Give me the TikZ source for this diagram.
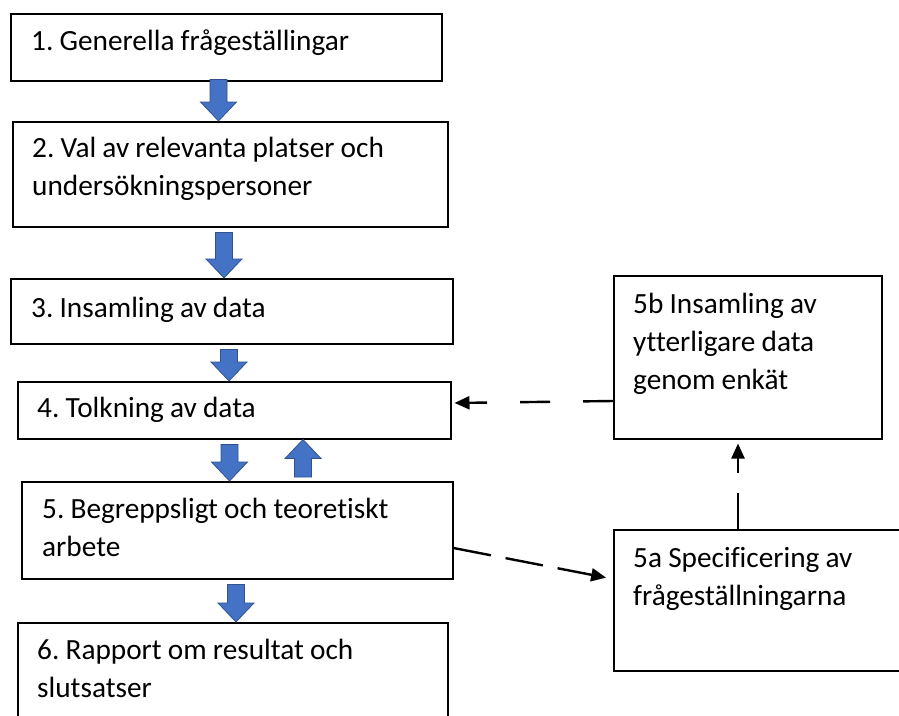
\documentclass[tikz,border=0pt]{standalone}
\usepackage{fontspec}
\setmainfont{Carlito}[Ligatures=NoCommon]
\usepackage{xcolor}
\usepackage{tikz}
\usetikzlibrary{calc,arrows.meta}

\definecolor{arrowblue}{HTML}{4472C4}
\definecolor{arrowline}{HTML}{2F528F}

\tikzset{
  box/.style={draw, line width=1.5pt, anchor=north west, inner sep=0pt},
  txt/.style={anchor=base west, inner sep=0pt, text width=420pt, align=left,
    font=\fontsize{29.3}{38}\selectfont,
    execute at begin node={\frenchspacing\spaceskip=0.21em\relax}},
  blockarrow/.style={draw=arrowline, fill=arrowblue, line width=0.75pt,
    to path={let \p1=(\tikztostart), \p2=(\tikztotarget),
      \n1={sign(\y2-\y1)} in
      ({\x1-8.5pt},{\y1+(\n1)*(#1)}) -- ({\x1-8.5pt},{\y2-(\n1)*19})
      -- ({\x1-18pt},{\y2-(\n1)*19}) -- (\x2,\y2)
      -- ({\x1+18pt},{\y2-(\n1)*19}) -- ({\x1+8.5pt},{\y2-(\n1)*19})
      -- ({\x1+8.5pt},{\y1+(\n1)*(#1)}) -- cycle}},
  blockarrow/.default=5,
  dasharrow/.style={line width=2.4pt, -{Triangle[length=15pt,width=13pt]}}
}

\begin{document}
\begin{tikzpicture}[x=1pt, y=-1pt]
  \useasboundingbox (0,0) rectangle (899,715);

  % main column
  \node[box, minimum width=431pt, minimum height=67pt] (b1) at (10,13) {};
  \node[txt] (t1) at (31,50) {1. Generella frågeställingar};
  \node[box, minimum width=435pt, minimum height=105pt] (b2) at (12,121) {};
  \node[txt] (t2) at (32,157) {2. Val av relevanta platser och\\undersökningspersoner};
  \node[box, minimum width=442pt, minimum height=65pt] (b3) at (10,278) {};
  \node[txt] (t3) at (31,317) {3. Insamling av data};
  \node[box, minimum width=433pt, minimum height=57pt] (b4) at (17,381) {};
  \node[txt] (t4) at (37,417) {4. Tolkning av data};
  \node[box, minimum width=431pt, minimum height=97pt] (b5) at (21,481) {};
  \node[txt] (t5) at (42,518) {5. Begreppsligt och teoretiskt\\arbete};
  \node[box, minimum width=430pt, minimum height=120pt] (b6) at (17,622) {};
  \node[txt] (t6) at (37,659) {6. Rapport om resultat och\\slutsatser};

  % side column
  \node[box, minimum width=268pt, minimum height=163pt] (b5b) at (613,275) {};
  \node[txt] (t5b) at (633,313) {5b Insamling av\\ytterligare data\\genom enkät};
  \node[box, minimum width=307pt, minimum height=141pt] (b5a) at (613,529) {};
  \node[txt] (t5a) at (633,567) {5a Specificering av\\frågeställningarna};

  \draw[blockarrow=-2] (b1.south -| 218.5,0) to (b2.north -| 218.5,0); % 1-2
  \draw[blockarrow] (b2.south -| 224,0) to (b3.north -| 224,0); % 2-3
  \draw[blockarrow] (b3.south -| 229,0) to (b4.north -| 229,0); % 3-4
  \draw[blockarrow] (b4.south -| 229.5,0) to (b5.north -| 229.5,0); % 4-5
  \draw[blockarrow=4] (b5.north -| 303,0) to (b4.south -| 303,0); % 5-4
  \draw[blockarrow] (b5.south -| 236,0) to (b6.north -| 236,0); % 5-6

  \draw[dasharrow, dash pattern=on 30pt off 33pt, shorten >=3pt]
    (b5b.west |- 0,401) -- (b4.east |- 0,403); % 5b-4
  \draw[dasharrow, dash pattern=on 38pt off 15pt, shorten >=7pt]
    (b5.east |- 0,548) -- (b5a.west |- 0,579); % 5-5a
  \draw[dasharrow, dash pattern=on 36pt off 20pt, shorten >=4pt]
    (b5a.north -| 738,0) -- (b5b.south -| 738,0); % 5a-5b
\end{tikzpicture}
\end{document}
